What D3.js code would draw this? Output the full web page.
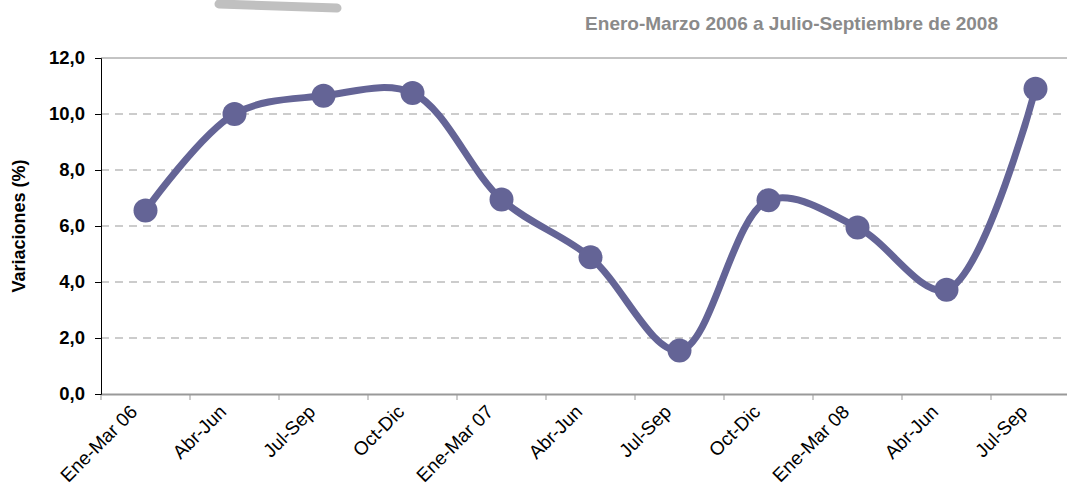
<!DOCTYPE html>
<html>
<head>
<meta charset="utf-8">
<script src="https://cdn.jsdelivr.net/npm/d3@7"></script>
<style>
  body { margin: 0; background: #fff; }
  svg { display: block; }
</style>
</head>
<body>
<svg id="chart" width="1067" height="500"></svg>
<script>
// quarters (trimestres)
var categories = ["Ene-Mar 06", "Abr-Jun", "Jul-Sep", "Oct-Dic", "Ene-Mar 07", "Abr-Jun", "Jul-Sep", "Oct-Dic", "Ene-Mar 08", "Abr-Jun", "Jul-Sep"];
var values = [6.55, 10.0, 10.65, 10.75, 6.95, 4.88, 1.55, 6.92, 5.95, 3.72, 10.9];
var yTicks = [0, 2, 4, 6, 8, 10, 12];
var title = "Enero-Marzo 2006 a Julio-Septiembre de 2008";

var svg = d3.select("#chart");
var pLeft = 101, pTop = 58, pBottom = 394, pRight = 1080;

var idx = d3.range(categories.length);
var x = d3.scaleBand().domain(idx).range([pLeft, pRight]);
var y = d3.scaleLinear().domain([0, 12]).range([pBottom, pTop]);
var fmt = function(v){ return d3.format(".1f")(v).replace(".", ","); };

// decorative bar at top
svg.append("line")
  .attr("x1", 219).attr("y1", 4).attr("x2", 337).attr("y2", 8)
  .attr("stroke", "#c0c0c0").attr("stroke-width", 9).attr("stroke-linecap", "round");

svg.append("text")
  .attr("x", 998).attr("y", 30)
  .attr("text-anchor", "end")
  .attr("font-family", "'Liberation Sans Narrow', 'Liberation Sans', Arial, sans-serif")
  .attr("font-size", 19).attr("font-weight", "bold")
  .attr("fill", "#8a8a8a")
  .text(title);

// gridlines
svg.append("g").selectAll("line")
  .data(yTicks.filter(function(d){ return d > 0; }))
  .join("line")
  .attr("x1", pLeft).attr("x2", 1067)
  .attr("y1", function(d){ return y(d); }).attr("y2", function(d){ return y(d); })
  .attr("stroke", function(d){ return d == 12 ? "#888" : "#999"; })
  .attr("stroke-width", 1)
  .attr("stroke-dasharray", function(d){ return d == 12 ? null : "8,6"; });

// x axis
var xAxis = d3.axisBottom(x).tickSize(0).tickFormat("");
var gx = svg.append("g").attr("transform", "translate(0," + pBottom + ")").call(xAxis);
gx.select(".domain").attr("stroke", "#999").attr("stroke-width", 2);
gx.selectAll(".edge").data(idx).join("line").attr("class", "edge")
  .attr("x1", function(d){ return x(d); }).attr("x2", function(d){ return x(d); })
  .attr("y1", 0).attr("y2", 6).attr("stroke", "#999");

gx.selectAll(".lbl").data(idx).join("text").attr("class", "lbl")
  .attr("transform", function(d){ return "translate(" + (x(d) + x.bandwidth()/2 - 7) + ",19) rotate(-45)"; })
  .attr("text-anchor", "end")
  .attr("font-family", "'Liberation Sans', Arial, sans-serif")
  .attr("font-size", 19)
  .attr("fill", "#000")
  .text(function(d){ return categories[d]; });

// y axis
var yAxis = d3.axisLeft(y).tickValues(yTicks).tickSize(6).tickPadding(10).tickFormat(fmt);
var gy = svg.append("g").attr("transform", "translate(" + pLeft + ",0)").call(yAxis);
gy.select(".domain").attr("stroke", "#000");
gy.selectAll("text")
  .attr("font-family", "'Liberation Sans', Arial, sans-serif")
  .attr("font-size", 18.5).attr("font-weight", "bold").attr("fill", "#000");

svg.append("text")
  .attr("transform", "translate(25," + ((pTop + pBottom) / 2) + ") rotate(-90)")
  .attr("text-anchor", "middle")
  .attr("font-family", "'Liberation Sans', Arial, sans-serif")
  .attr("font-size", 18).attr("font-weight", "bold")
  .text("Variaciones (%)");

// series
var line = d3.line()
  .x(function(d){ return x(d) + x.bandwidth()/2; })
  .y(function(d){ return y(values[d]); })
  .curve(d3.curveCatmullRom.alpha(0.5));

svg.append("path").datum(idx)
  .attr("d", line)
  .attr("fill", "none")
  .attr("stroke", "#646496")
  .attr("stroke-width", 7);

svg.append("g").selectAll("circle").data(idx).join("circle")
  .attr("cx", function(d){ return x(d) + x.bandwidth()/2; })
  .attr("cy", function(d){ return y(values[d]); })
  .attr("r", 12)
  .attr("fill", "#646496");
</script>
</body>
</html>
